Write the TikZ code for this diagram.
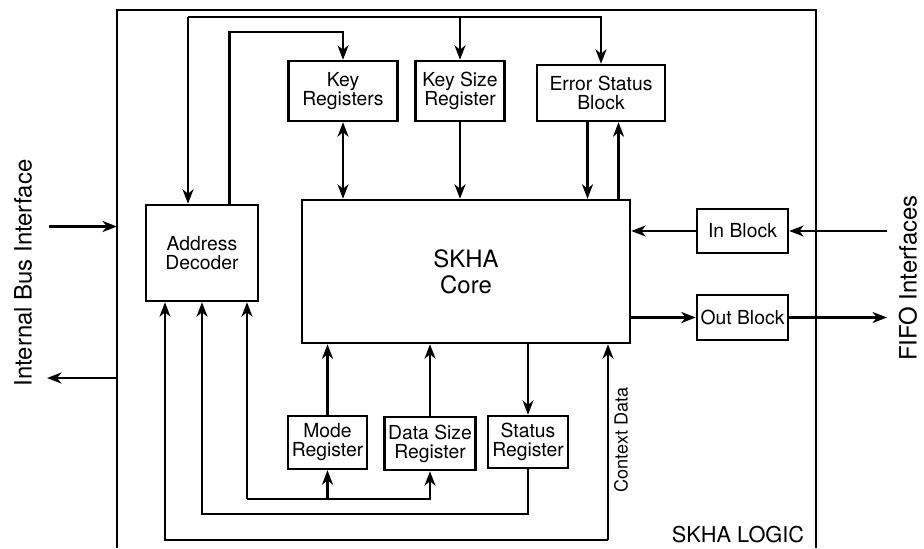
\documentclass[tikz,border=0pt]{standalone}
\usepackage{fontspec}
\setmainfont{TeX Gyre Heros}
\usetikzlibrary{arrows.meta,positioning,calc}

\begin{document}
\begin{tikzpicture}[
  every node/.style={align=center,inner sep=2pt},
  block/.style={draw,line width=1.4pt,font=\fontsize{11}{10.8}\selectfont},
  flow/.style={-{Stealth[length=2.9mm,width=2.2mm,inset=0.9mm]},line width=1.4pt},
  dflow/.style={{Stealth[length=2.9mm,width=2.2mm,inset=0.9mm]}-{Stealth[length=2.9mm,width=2.2mm,inset=0.9mm]},line width=1.4pt},
  wire/.style={line width=1.4pt},
  side/.style={font=\fontsize{13.6}{14}\selectfont,rotate=90}
]
  \useasboundingbox (0,0) rectangle (18.48,10.96);
  % frame of the logic block, open at the bottom
  \coordinate (fbl) at (2.34,0);
  \coordinate (ftl) at (2.34,10.76);
  \coordinate (ftr) at (16.32,10.76);
  \coordinate (fbr) at (16.32,0);
  \draw[wire] (fbl) -- (ftl) -- (ftr) -- (fbr);
  \node[block,minimum width=2.24cm,minimum height=1.92cm] (dec) at (4.04,5.90) {Address\\Decoder};
  \node[block,minimum width=6.56cm,minimum height=2.86cm,font=\fontsize{13.6}{15}\selectfont] (core) at (9.32,5.53) {SKHA\\Core};
  \node[block,minimum width=2.18cm,minimum height=1.20cm] (key) at (6.86,9.14) {Key\\Registers};
  \node[block,minimum width=1.78cm,minimum height=1.20cm] (ksz) at (9.20,9.14) {Key Size\\Register};
  \node[block,minimum width=2.56cm,minimum height=1.12cm] (err) at (12.02,9.10) {Error Status\\Block};
  \node[block,minimum width=1.82cm,minimum height=0.88cm] (inb) at (14.85,6.34) {In Block};
  \node[block,minimum width=1.82cm,minimum height=0.90cm] (outb) at (14.85,4.61) {Out Block};
  \node[block,minimum width=1.58cm,minimum height=1.06cm] (mode) at (6.55,2.11) {Mode\\Register};
  \node[block,minimum width=1.76cm,minimum height=1.06cm] (dsz) at (8.60,2.09) {Data Size\\Register};
  \node[block,minimum width=1.60cm,minimum height=1.04cm] (stat) at (10.56,2.12) {Status\\Register};
  % labels
  \node[side] (ibi) at (0.46,5.50) {Internal Bus Interface};
  \node[side] (fifo) at (18.16,5.40) {FIFO Interfaces};
  \node[rotate=90,font=\fontsize{10.3}{11}\selectfont] (ctxl) at (12.42,2.16) {Context Data};
  \node[font=\fontsize{12.4}{12}\selectfont] (logic) at (14.76,0.26) {SKHA LOGIC};
  % top bus
  \coordinate (bus) at (3.76,10.62);
  \draw[flow] (bus) -- (bus |- dec.north);
  \draw[flow] (bus) -| (err.north);
  \draw[flow] (bus -| ksz.north) -- (ksz.north);
  \draw[flow] ($(dec.north)+(0.55,0)$) |- ($(key.north)+(0,0.56)$) -- (key.north);
  \draw[dflow] (key.south) -- (key.south |- core.north);
  \draw[flow] (ksz.south) -- (ksz.south |- core.north);
  \coordinate (erd) at ($(err.south)+(-0.27,0)$);
  \coordinate (eru) at ($(err.south)+(0.35,0)$);
  \draw[flow] (erd) -- (erd |- core.north);
  \draw[flow] (eru |- core.north) -- (eru);
  % fifo side
  \coordinate (fifoin) at (17.74,6.34);
  \coordinate (fifoout) at (17.74,4.61);
  \draw[flow] (fifoin) -- (inb.east);
  \draw[flow] (inb.west) -- (inb.west -| core.east);
  \draw[flow] (core.east |- outb.west) -- (outb.west);
  \draw[flow] (outb.east) -- (fifoout);
  % internal bus side
  \coordinate (busin) at (0.98,6.43);
  \coordinate (busout) at (0.94,3.40);
  \draw[flow] (busin) -- (busin -| fbl);
  \draw[flow] (busout -| fbl) -- (busout);
  % lower registers
  \draw[flow] (mode.north) -- (mode.north |- core.south);
  \draw[flow] (dsz.north) -- (dsz.north |- core.south);
  \draw[flow] (stat.north |- core.south) -- (stat.north);
  \coordinate (ctx) at (12.16,0.16);
  \draw[flow] (ctx) -- (ctx |- core.south);
  \draw[flow] (ctx) -| ($(dec.south)+(-0.74,0)$);
  \draw[flow] (stat.south) -- ++(0,-0.90) -| (dec.south);
  \coordinate (cfg) at (4.94,0.98);
  \draw[flow] (cfg) -- (cfg |- dec.south);
  \draw[flow] (cfg) -| (dsz.south);
  \draw[flow] (cfg -| mode.south) -- (mode.south);
\end{tikzpicture}
\end{document}
